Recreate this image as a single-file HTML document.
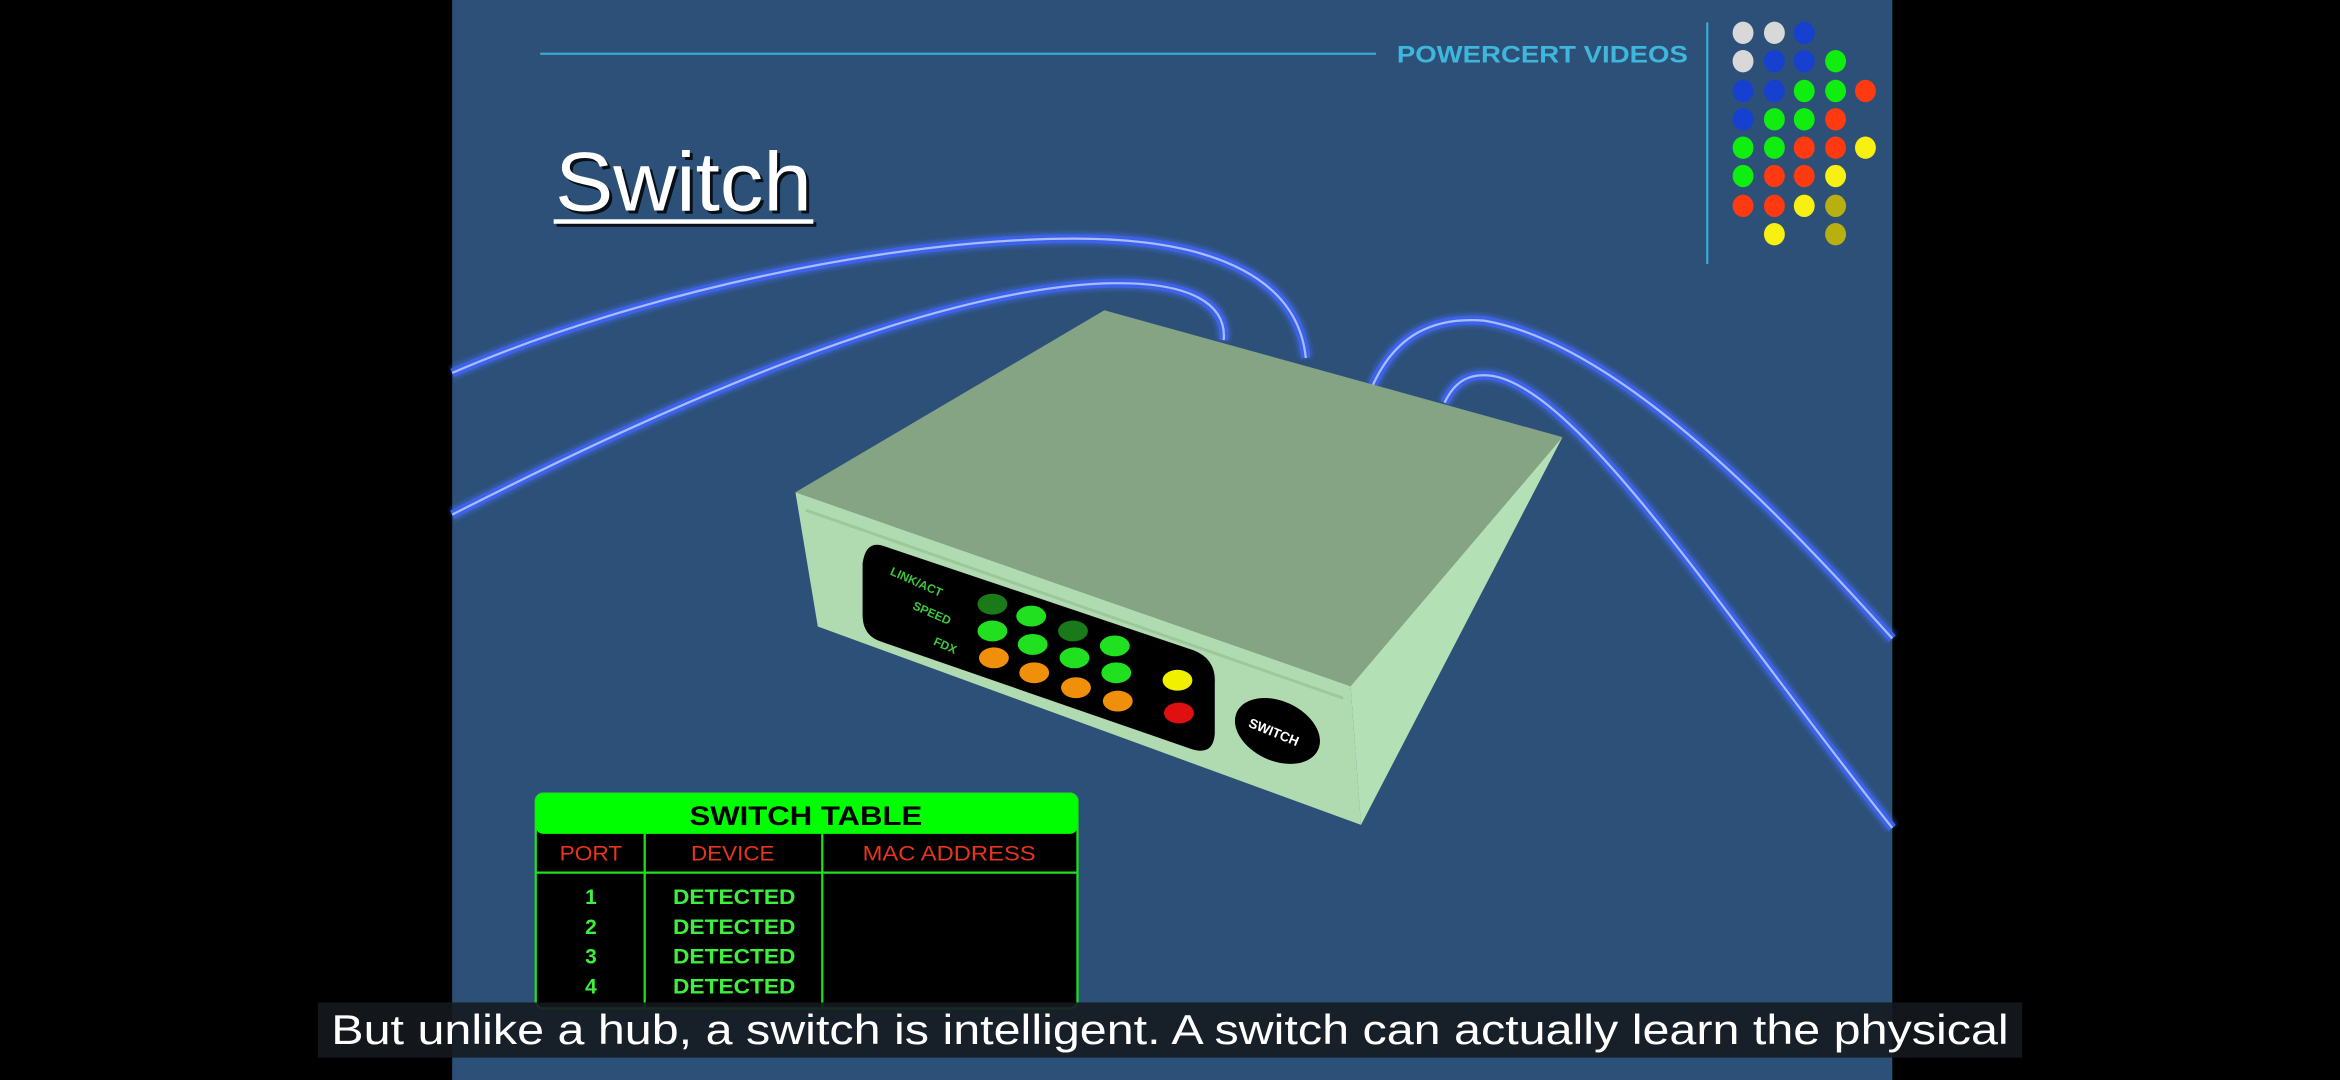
<!DOCTYPE html>
<html><head><meta charset="utf-8"><style>
html,body{margin:0;padding:0;background:#000;width:2340px;height:1080px;overflow:hidden}
svg{display:block}
text{font-family:"Liberation Sans",sans-serif}
</style></head><body>
<svg width="2340" height="1080" viewBox="0 0 1568 724" preserveAspectRatio="none" xmlns="http://www.w3.org/2000/svg">
<defs>
<filter id="glow" x="-20%" y="-20%" width="140%" height="140%"><feGaussianBlur stdDeviation="1.5"/></filter>
</defs>
<rect x="0" y="0" width="1568" height="724" fill="#000"/>
<rect x="303" y="0" width="965" height="724" fill="#2c5078"/>
<line x1="362" y1="36" x2="922" y2="36" stroke="#39a9cf" stroke-width="1.5"/>
<text x="936" y="42" font-size="16" font-weight="bold" fill="#3fb6dc" textLength="195" lengthAdjust="spacingAndGlyphs">POWERCERT VIDEOS</text>
<line x1="1144" y1="15" x2="1144" y2="177" stroke="#39a9cf" stroke-width="1.5"/>
<g id="dots"></g>
<text x="374" y="143" font-size="56" fill="#000" opacity="0.8" textLength="172" lengthAdjust="spacingAndGlyphs">Switch</text>
<text x="372" y="141" font-size="56" fill="#fff" textLength="172" lengthAdjust="spacingAndGlyphs">Switch</text>
<rect x="373" y="149" width="174" height="3" fill="#000" opacity="0.8"/>
<rect x="371" y="147" width="174" height="3" fill="#fff"/>
<g fill="none">
<g stroke="#4a70ff" stroke-width="9" opacity="0.45" filter="url(#glow)">
<path d="M303 250 C430 195 600 160 720 160 C820 160 870 190 875 240"/>
<path d="M303 345 C450 270 620 195 740 190 C800 188 822 205 820 228"/>
<path d="M920 258 C935 225 960 212 995 215 C1080 230 1180 330 1268 428"/>
<path d="M968 270 C975 255 985 250 1000 252 C1060 262 1160 420 1268 555"/>
</g>
<g stroke="#3d62ea" stroke-width="6">
<path d="M303 250 C430 195 600 160 720 160 C820 160 870 190 875 240"/>
<path d="M303 345 C450 270 620 195 740 190 C800 188 822 205 820 228"/>
<path d="M920 258 C935 225 960 212 995 215 C1080 230 1180 330 1268 428"/>
<path d="M968 270 C975 255 985 250 1000 252 C1060 262 1160 420 1268 555"/>
</g>
<g stroke="#a8bcff" stroke-width="1.5">
<path d="M303 250 C430 195 600 160 720 160 C820 160 870 190 875 240"/>
<path d="M303 345 C450 270 620 195 740 190 C800 188 822 205 820 228"/>
<path d="M920 258 C935 225 960 212 995 215 C1080 230 1180 330 1268 428"/>
<path d="M968 270 C975 255 985 250 1000 252 C1060 262 1160 420 1268 555"/>
</g>
</g>
<g>
<polygon points="740,208 1047,293 905,460 533,330" fill="#84a484"/>
<polygon points="533,330 905,460 912,553 548,420" fill="#b0dbb0"/>
<polygon points="905,460 1047,293 912,553" fill="#b4e0b6"/>
<line x1="540" y1="342" x2="900" y2="468" stroke="#9cc89c" stroke-width="2"/>
<path d="M592 366 L800 436 Q815 442 814 458 L814 492 Q813 507 798 502 L590 430 Q578 426 578 412 L578 378 Q580 362 592 366 Z" fill="#000"/>
<g font-size="8" font-weight="bold" fill="#3ec83e">
<text x="596" y="385" transform="rotate(24 596 385)">LINK/ACT</text>
<text x="611" y="408" transform="rotate(24 611 408)">SPEED</text>
<text x="625" y="432" transform="rotate(24 625 432)">FDX</text>
</g>
<g id="leds"></g>
<ellipse cx="789" cy="456" rx="10" ry="7" fill="#f0f000"/>
<ellipse cx="790" cy="478" rx="10" ry="7" fill="#e01010"/>
<ellipse cx="856" cy="490" rx="30" ry="20" transform="rotate(25 856 490)" fill="#000"/>
<text x="836" y="487" font-size="9" font-weight="bold" fill="#fff" transform="rotate(22 836 487)">SWITCH</text>
</g>
<g>
<rect x="359" y="532" width="363" height="144" rx="5" fill="#000" stroke="#20e020" stroke-width="1.5"/>
<rect x="359" y="532" width="363" height="27" rx="5" fill="#00ff00"/>
<text x="540" y="553" font-size="18" font-weight="bold" text-anchor="middle" fill="#000" textLength="156" lengthAdjust="spacingAndGlyphs">SWITCH TABLE</text>
<line x1="359" y1="585" x2="722" y2="585" stroke="#20e020" stroke-width="1.5"/>
<line x1="432" y1="559" x2="432" y2="676" stroke="#20e020" stroke-width="1.5"/>
<line x1="551" y1="559" x2="551" y2="676" stroke="#20e020" stroke-width="1.5"/>
<g font-size="14" fill="#e8341c" text-anchor="middle">
<text x="396" y="577" textLength="42" lengthAdjust="spacingAndGlyphs">PORT</text>
<text x="491" y="577" textLength="56" lengthAdjust="spacingAndGlyphs">DEVICE</text>
<text x="636" y="577" textLength="116" lengthAdjust="spacingAndGlyphs">MAC ADDRESS</text>
</g>
<g font-size="14" fill="#3ef03e" text-anchor="middle" font-weight="bold">
<text x="396" y="606">1</text><text x="492" y="606" textLength="82" lengthAdjust="spacingAndGlyphs">DETECTED</text>
<text x="396" y="626">2</text><text x="492" y="626" textLength="82" lengthAdjust="spacingAndGlyphs">DETECTED</text>
<text x="396" y="646">3</text><text x="492" y="646" textLength="82" lengthAdjust="spacingAndGlyphs">DETECTED</text>
<text x="396" y="666">4</text><text x="492" y="666" textLength="82" lengthAdjust="spacingAndGlyphs">DETECTED</text>
</g>
</g>
<rect x="213" y="672" width="1142" height="37" fill="#15191f" opacity="0.9"/>
<text x="784" y="700" font-size="28" fill="#fff" text-anchor="middle" textLength="1124" lengthAdjust="spacingAndGlyphs">But unlike a hub, a switch is intelligent.  A switch can actually learn the physical</text>
</svg>
<script>
const NS='http://www.w3.org/2000/svg';
const dotCols=[1168,1189,1209,1230,1250];
const dotRows=[22,41,61,80,99,118,138,157];
const dotColors=[
 ['#d8d8d8','#d8d8d8','#1540d0',null,null],
 ['#d8d8d8','#1540d0','#1540d0','#10ee10',null],
 ['#1540d0','#1540d0','#10ee10','#10ee10','#ff3a10'],
 ['#1540d0','#10ee10','#10ee10','#ff3a10',null],
 ['#10ee10','#10ee10','#ff3a10','#ff3a10','#f8f010'],
 ['#10ee10','#ff3a10','#ff3a10','#f8f010',null],
 ['#ff3a10','#ff3a10','#f8f010','#b8b010',null],
 [null,'#f8f010',null,'#b8b010',null]];
const dg=document.getElementById('dots');
dotRows.forEach((y,r)=>dotCols.forEach((x,c)=>{
 const col=dotColors[r][c]; if(!col) return;
 const e=document.createElementNS(NS,'ellipse');
 e.setAttribute('cx',x);e.setAttribute('cy',y);e.setAttribute('rx',7);e.setAttribute('ry',7.5);e.setAttribute('fill',col);
 
 
 dg.appendChild(e);
}));
const ledPos=[[665,405,'#1a7a1a'],[691,413,'#20e020'],[719,423,'#1a7a1a'],[747,433,'#20e020'],
 [665,423,'#20e020'],[692,432,'#20e020'],[720,441,'#20e020'],[748,451,'#20e020'],
 [666,441,'#f0900a'],[693,451,'#f0900a'],[721,461,'#f0900a'],[749,470,'#f0900a']];
const lg=document.getElementById('leds');
ledPos.forEach(p=>{
 const e=document.createElementNS(NS,'ellipse');
 e.setAttribute('cx',p[0]);e.setAttribute('cy',p[1]);e.setAttribute('rx',10);e.setAttribute('ry',7);e.setAttribute('fill',p[2]);
 
 
 lg.appendChild(e);
});
</script>
</body></html>
